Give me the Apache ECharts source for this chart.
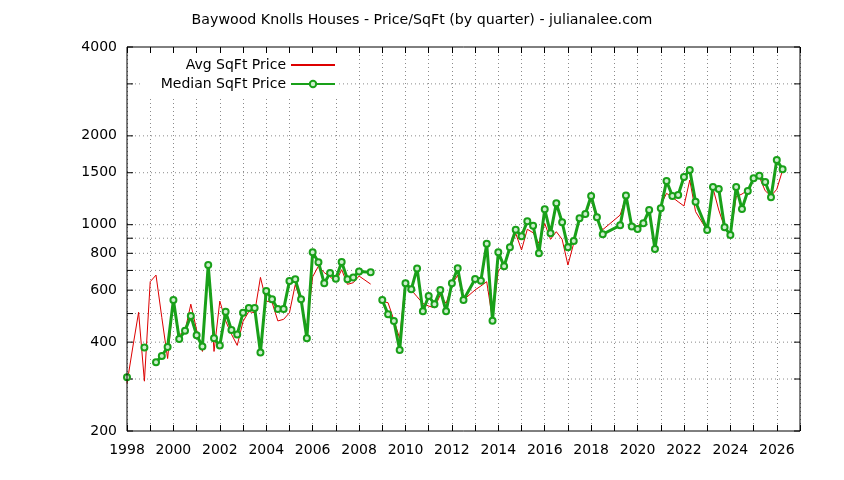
<!DOCTYPE html>
<html>
<head>
<meta charset="utf-8">
<script src="https://cdn.jsdelivr.net/npm/echarts@6/dist/echarts.min.js"></script>
<style>
  html, body { margin: 0; padding: 0; background: #fff; }
  #chart { width: 844px; height: 480px; }
</style>
</head>
<body>
<div id="chart"></div>
<script>
// quarterly values; null = break in the line
const avgQuarters = [1998, 1998.25, 1998.5, 1998.75, 1999, 1999.25, 1999.5, 1999.75,
  2000, 2000.25, 2000.5, 2000.75, 2001, 2001.25, 2001.5, 2001.75,
  2002, 2002.25, 2002.5, 2002.75, 2003, 2003.25, 2003.5, 2003.75,
  2004, 2004.25, 2004.5, 2004.75, 2005, 2005.25, 2005.5, 2005.75,
  2006, 2006.25, 2006.5, 2006.75, 2007, 2007.25, 2007.5, 2007.75,
  2008, 2008.5, 2008.75,
  2009, 2009.25, 2009.5, 2009.75, 2010, 2010.25, 2010.5, 2010.75,
  2011, 2011.25, 2011.5, 2011.75, 2012, 2012.25, 2012.5,
  2013, 2013.25, 2013.5, 2013.75, 2014, 2014.25, 2014.5, 2014.75,
  2015, 2015.25, 2015.5, 2015.75, 2016, 2016.25, 2016.5, 2016.75,
  2017, 2017.25, 2017.5, 2017.75, 2018, 2018.25, 2018.5,
  2019.25, 2019.5, 2019.75, 2020, 2020.25, 2020.5, 2020.75,
  2021, 2021.25, 2021.5, 2021.75, 2022, 2022.25, 2022.5,
  2023, 2023.25, 2023.5, 2023.75, 2024, 2024.25, 2024.5, 2024.75,
  2025, 2025.25, 2025.5, 2025.75, 2026, 2026.25]
const avgValues = [290, 385, 505, 295, 641, 675, 485, 352,
  556, 423, 437, 538, 440, 372, 730, 372,
  551, 472, 426, 390, 470, 508, 503, 663,
  551, 546, 472, 478, 503, 627, 545, 445,
  666, 724, 688, 666, 641, 704, 628, 636,
  670, 629, null,
  550, 544, 475, 412, 649, 601, 570, 541,
  530, 523, 578, 541, 625, 675, 556,
  601, 620, 641, 478, 700, 730, 821, 935,
  821, 965, 939, 865, 1010, 892, 947, 892,
  730, 865, 1050, 1064, 1228, 1037, 962,
  1078, 1245, 988, 990, 1023, 1107, 835,
  1166, 1277, 1238, 1196, 1157, 1417, 1107,
  955, 1330, 1121, 980, 920, 1244, 1270, 1310,
  1417, 1450, 1303, 1251, 1318, 1531]

const medianQuarters = [1998, 1998.25, 1998.75, 1999, 1999.25, 1999.5, 1999.75,
  2000, 2000.25, 2000.5, 2000.75, 2001, 2001.25, 2001.5, 2001.75,
  2002, 2002.25, 2002.5, 2002.75, 2003, 2003.25, 2003.5, 2003.75,
  2004, 2004.25, 2004.5, 2004.75, 2005, 2005.25, 2005.5, 2005.75,
  2006, 2006.25, 2006.5, 2006.75, 2007, 2007.25, 2007.5, 2007.75,
  2008, 2008.5, 2008.75,
  2009, 2009.25, 2009.5, 2009.75, 2010, 2010.25, 2010.5, 2010.75,
  2011, 2011.25, 2011.5, 2011.75, 2012, 2012.25, 2012.5,
  2013, 2013.25, 2013.5, 2013.75, 2014, 2014.25, 2014.5, 2014.75,
  2015, 2015.25, 2015.5, 2015.75, 2016, 2016.25, 2016.5, 2016.75,
  2017, 2017.25, 2017.5, 2017.75, 2018, 2018.25, 2018.5,
  2019.25, 2019.5, 2019.75, 2020, 2020.25, 2020.5, 2020.75,
  2021, 2021.25, 2021.5, 2021.75, 2022, 2022.25, 2022.5,
  2023, 2023.25, 2023.5, 2023.75, 2024, 2024.25, 2024.5, 2024.75,
  2025, 2025.25, 2025.5, 2025.75, 2026, 2026.25]
const medianValues = [304, null, 384, null, 342, 359, 385,
  556, 410, 437, 491, 422, 387, 730, 412,
  390, 507, 440, 425, 503, 522, 522, 369,
  596, 559, 518, 518, 644, 653, 559, 412,
  806, 746, 633, 686, 656, 747, 653, 663,
  694, 690, null,
  556, 497, 472, 376, 633, 604, 711, 509,
  573, 538, 601, 509, 633, 712, 556,
  655, 646, 862, 473, 806, 723, 838, 961,
  913, 1027, 992, 800, 1127, 935, 1181, 1019,
  838, 880, 1052, 1087, 1251, 1059, 928,
  995, 1257, 987, 967, 1011, 1121, 827,
  1136, 1406, 1251, 1260, 1450, 1531, 1196,
  959, 1342, 1321, 980, 923, 1342, 1130, 1300,
  1436, 1465, 1395, 1238, 1656, 1540]

const yGridValues = [200, 300, 400, 500, 600, 700, 800, 900, 1000, 1500, 2000, 3000, 4000]
const yLabelValues = [200, 400, 600, 800, 1000, 1500, 2000, 4000]

const xMin = 1998
const xMax = 2027
const yMin = 200
const yMax = 4000

const FONT = 'DejaVu Sans'
const RED = '#dd0000'
const GREEN = '#19a019'
const DOT = '#8a8a8a'

function pairs(xs, ys) {
  return xs.map((x, i) => [x, ys[i] == null ? '-' : ys[i]])
}

// y ticks, labels and dotted grid lines of the log axis, placed through api.coord
function renderYGrid(params, api) {
  const v = api.value(1)
  const l = api.coord([xMin, v])
  const r = api.coord([xMax, v])
  const children = []
  if (v > yMin && v < yMax) {
    children.push({
      type: 'line',
      shape: { x1: l[0], y1: l[1], x2: r[0], y2: r[1] },
      style: { stroke: DOT, lineWidth: 1, lineDash: [1, 3] }
    })
  }
  children.push({ type: 'line', shape: { x1: l[0], y1: l[1], x2: l[0] + 6, y2: l[1] }, style: { stroke: '#000', lineWidth: 1 } })
  children.push({ type: 'line', shape: { x1: r[0] - 6, y1: r[1], x2: r[0], y2: r[1] }, style: { stroke: '#000', lineWidth: 1 } })
  if (yLabelValues.indexOf(v) >= 0) {
    children.push({
      type: 'text',
      style: {
        text: String(v), x: l[0] - 10, y: l[1],
        align: 'right', verticalAlign: 'middle',
        fontSize: 14, fontFamily: FONT, fill: '#000'
      }
    })
  }
  return { type: 'group', children: children }
}

const legendBase = {
  orient: 'vertical',
  align: 'right',
  right: 506,
  itemWidth: 44,
  itemHeight: 8,
  backgroundColor: '#fff',
  textStyle: { fontSize: 14, fontFamily: FONT, color: '#000' }
}

const chart = echarts.init(document.getElementById('chart'))

chart.setOption({
  animation: false,
  backgroundColor: '#fff',
  title: {
    text: 'Baywood Knolls Houses - Price/SqFt (by quarter) - julianalee.com',
    left: 'center',
    top: 8,
    textStyle: { fontSize: 14.2, fontWeight: 'normal', fontFamily: FONT, color: '#000' }
  },
  legend: [
    Object.assign({}, legendBase, {
      data: ['Avg SqFt Price'], top: 54, padding: [4, 2, 3, 40],
      itemStyle: { opacity: 0 }
    }),
    Object.assign({}, legendBase, { data: ['Median SqFt Price'], top: 74, padding: [3, 2, 5, 20] })
  ],
  grid: {
    left: 127, right: 44, top: 47, bottom: 49,
    show: true, borderColor: '#000', borderWidth: 1, z: 5
  },
  xAxis: [{
    type: 'value',
    min: xMin, max: xMax, interval: 1,
    axisLine: { show: false },
    axisTick: { inside: true, length: 6, lineStyle: { color: '#000' } },
    axisLabel: {
      margin: 12, fontSize: 14, fontFamily: FONT, color: '#000',
      formatter: v => (v % 2 === 0 ? String(v) : '')
    },
    splitLine: { show: true, lineStyle: { color: DOT, type: [1, 3], width: 1 } }
  }, {
    type: 'value',
    position: 'top',
    min: xMin, max: xMax, interval: 1,
    axisLine: { show: false },
    axisTick: { inside: true, length: 6, lineStyle: { color: '#000' } },
    axisLabel: { show: false },
    splitLine: { show: false }
  }],
  yAxis: {
    type: 'log',
    logBase: 10,
    min: yMin, max: yMax,
    axisLine: { show: false },
    axisTick: { show: false },
    axisLabel: { show: false },
    splitLine: { show: false }
  },
  series: [{
    type: 'custom',
    name: 'ygrid',
    renderItem: renderYGrid,
    data: yGridValues.map(v => [xMin, v]),
    encode: { x: 0, y: 1 },
    silent: true,
    z: 1
  }, {
    name: 'Avg SqFt Price',
    type: 'line',
    data: pairs(avgQuarters, avgValues),
    symbol: 'none',
    connectNulls: false,
    lineStyle: { color: RED, width: 1 },
    itemStyle: { color: RED },
    z: 3
  }, {
    name: 'Median SqFt Price',
    type: 'line',
    data: pairs(medianQuarters, medianValues),
    symbol: 'circle',
    symbolSize: 6,
    connectNulls: false,
    lineStyle: { color: GREEN, width: 3 },
    itemStyle: { color: '#cdeecd', borderColor: GREEN, borderWidth: 2 },
    z: 4
  }]
})
</script>
</body>
</html>
